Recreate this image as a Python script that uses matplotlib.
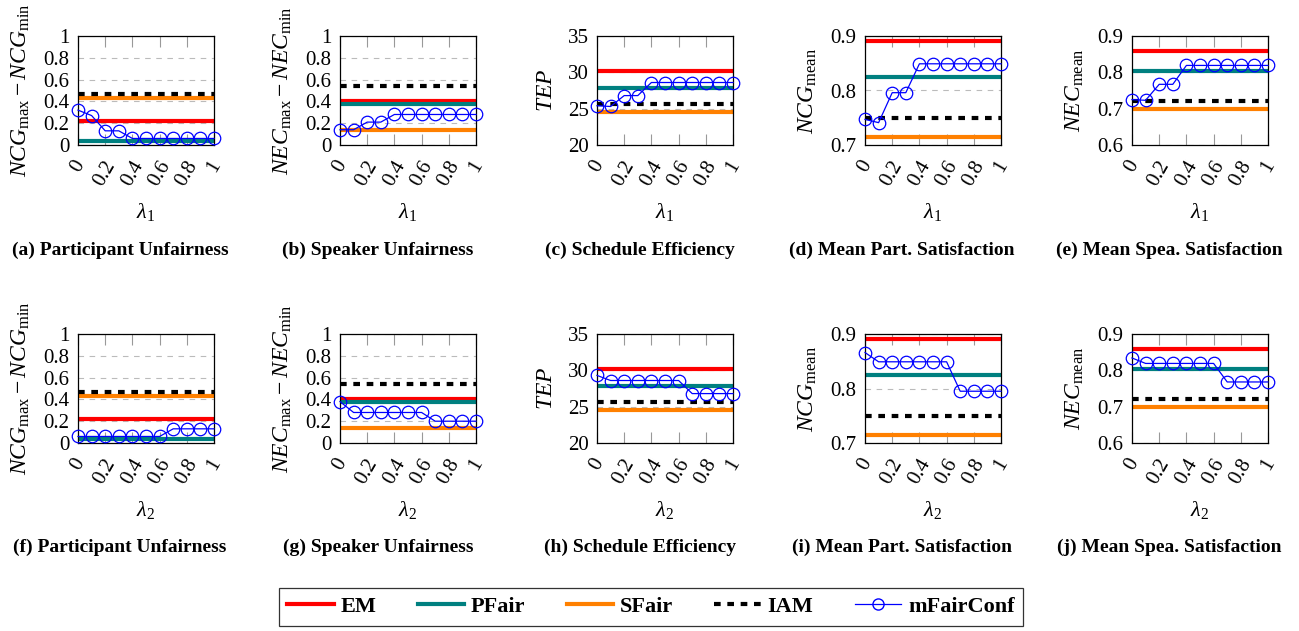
"""
plot.py

Sensitivity of mFairConf to lambda_1 / lambda_2 against fixed baselines.
"""

import matplotlib.pyplot as plt
from matplotlib.lines import Line2D

plt.rcParams["font.family"] = "Liberation Serif"
plt.rcParams["mathtext.fontset"] = "custom"
plt.rcParams["mathtext.rm"] = "Liberation Serif"
plt.rcParams["mathtext.it"] = "Liberation Serif:italic"
plt.rcParams["mathtext.bf"] = "Liberation Serif:bold"

W, H = 1299, 631

lam = [0, 0.1, 0.2, 0.3, 0.4, 0.5, 0.6, 0.7, 0.8, 0.9, 1.0]

ylabels = [
    r"$NCG_{\mathrm{max}} - NCG_{\mathrm{min}}$",
    r"$NEC_{\mathrm{max}} - NEC_{\mathrm{min}}$",
    r"$TEP$",
    r"$NCG_{\mathrm{mean}}$",
    r"$NEC_{\mathrm{mean}}$",
]
titles = [
    "Participant Unfairness",
    "Speaker Unfairness",
    "Schedule Efficiency",
    "Mean Part. Satisfaction",
    "Mean Spea. Satisfaction",
]
ylims = [(0, 1), (0, 1), (20, 35), (0.7, 0.9), (0.6, 0.9)]
yticks = [
    [0, 0.2, 0.4, 0.6, 0.8, 1],
    [0, 0.2, 0.4, 0.6, 0.8, 1],
    [20, 25, 30, 35],
    [0.7, 0.8, 0.9],
    [0.6, 0.7, 0.8, 0.9],
]
yticklabels = [
    ["0", "0.2", "0.4", "0.6", "0.8", "1"],
    ["0", "0.2", "0.4", "0.6", "0.8", "1"],
    ["20", "25", "30", "35"],
    ["0.7", "0.8", "0.9"],
    ["0.6", "0.7", "0.8", "0.9"],
]
xticks = [0, 0.2, 0.4, 0.6, 0.8, 1]
xticklabels = ["0", "0.2", "0.4", "0.6", "0.8", "1"]

# baselines (constant over lambda)
em = [0.22, 0.40, 30.2, 0.89, 0.86]
pfair = [0.04, 0.38, 27.8, 0.825, 0.805]
sfair = [0.43, 0.14, 24.6, 0.715, 0.70]
iam = [0.47, 0.54, 25.7, 0.75, 0.72]

# mFairConf, sweeping lambda_1
mfair_l1 = [
    [0.32, 0.27, 0.13, 0.13, 0.06, 0.06, 0.06, 0.06, 0.06, 0.06, 0.06],
    [0.14, 0.14, 0.21, 0.21, 0.28, 0.28, 0.28, 0.28, 0.28, 0.28, 0.28],
    [25.4, 25.3, 26.8, 26.8, 28.6, 28.6, 28.6, 28.6, 28.6, 28.6, 28.6],
    [0.747, 0.741, 0.796, 0.796, 0.849, 0.849, 0.849, 0.849, 0.849, 0.849, 0.849],
    [0.725, 0.723, 0.767, 0.767, 0.819, 0.819, 0.819, 0.819, 0.819, 0.819, 0.819],
]

# mFairConf, sweeping lambda_2
mfair_l2 = [
    [0.06, 0.06, 0.06, 0.06, 0.06, 0.06, 0.06, 0.13, 0.13, 0.13, 0.13],
    [0.38, 0.28, 0.28, 0.28, 0.28, 0.28, 0.28, 0.20, 0.20, 0.20, 0.20],
    [29.3, 28.6, 28.6, 28.6, 28.6, 28.6, 28.6, 26.8, 26.8, 26.8, 26.8],
    [0.866, 0.849, 0.849, 0.849, 0.849, 0.849, 0.849, 0.795, 0.795, 0.795, 0.795],
    [0.834, 0.819, 0.819, 0.819, 0.819, 0.819, 0.819, 0.768, 0.768, 0.768, 0.768],
]

letters = ["a", "b", "c", "d", "e", "f", "g", "h", "i", "j"]

RED = "#ff0000"
TEAL = "#008080"
ORANGE = "#ff8000"
BLUE = "#0000ff"

AX_LEFT = [78, 340, 597, 865, 1132]
AX_W = 136
ROW_TOP = [36, 334]
AX_H = 109
CAP_X = [120, 378, 640, 902, 1169]


def draw_panel(ax, k, series, lam_sym):
    ax.axhline(em[k], color=RED, lw=3)
    ax.axhline(pfair[k], color=TEAL, lw=3)
    ax.axhline(sfair[k], color=ORANGE, lw=3)
    ax.axhline(iam[k], color="black", lw=3, linestyle=(0, (1.6, 1.6)))
    ax.plot(lam, series, color=BLUE, lw=0.9, marker="o", markersize=9,
            markerfacecolor="none", markeredgewidth=0.9, clip_on=False, zorder=5)

    ax.set_xlim(0, 1)
    ax.set_ylim(*ylims[k])
    ax.set_yticks(yticks[k])
    ax.set_yticklabels(yticklabels[k], fontsize=15)
    ax.set_xticks(xticks)
    ax.set_xticklabels(xticklabels, fontsize=15, rotation=60,
                       ha="center", va="top")

    ax.tick_params(axis="x", direction="in", length=8, color="#999999",
                   top=True, bottom=True, pad=9)
    ax.tick_params(axis="y", length=0, pad=6)
    ax.yaxis.grid(True, linestyle=(0, (5, 5)), color="#bbbbbb", lw=0.8)
    ax.set_axisbelow(True)
    for sp in ax.spines.values():
        sp.set_linewidth(0.9)

    ax.set_ylabel(ylabels[k], fontsize=17, labelpad=8)
    ax.set_xlabel(lam_sym, fontsize=16, labelpad=8)


def main():
    fig = plt.figure(figsize=(W / 100, H / 100), dpi=100)

    for row, data in enumerate([mfair_l1, mfair_l2]):
        lam_sym = r"$\lambda_1$" if row == 0 else r"$\lambda_2$"
        for k in range(5):
            left = AX_LEFT[k] / W
            bottom = 1 - (ROW_TOP[row] + AX_H) / H
            ax = fig.add_axes([left, bottom, AX_W / W, AX_H / H])
            draw_panel(ax, k, data[k], lam_sym)

            cap_y = 1 - (250 + 297 * row) / H
            fig.text(CAP_X[k] / W, cap_y, f"({letters[row * 5 + k]}) {titles[k]}",
                     ha="center", va="center", fontsize=14, fontweight="bold")

    handles = [
        Line2D([], [], color=RED, lw=3),
        Line2D([], [], color=TEAL, lw=3),
        Line2D([], [], color=ORANGE, lw=3),
        Line2D([], [], color="black", lw=3, linestyle=(0, (1.6, 1.6))),
        Line2D([], [], color=BLUE, lw=0.9, marker="o", markersize=8,
               markerfacecolor="none"),
    ]
    labels = ["EM", "PFair", "SFair", "IAM", "mFairConf"]
    leg = fig.legend(handles, labels, loc="center",
                     bbox_to_anchor=(651 / W, 1 - 607 / H), ncol=5,
                     frameon=True, fancybox=False, edgecolor="black",
                     prop={"family": "Liberation Serif", "weight": "bold", "size": 16},
                     handlelength=2.1, handletextpad=0.3, columnspacing=1.85,
                     borderpad=0.4)
    leg.get_frame().set_linewidth(0.9)

    fig.savefig("out.png", dpi=100)
    plt.close(fig)


if __name__ == "__main__":
    main()
